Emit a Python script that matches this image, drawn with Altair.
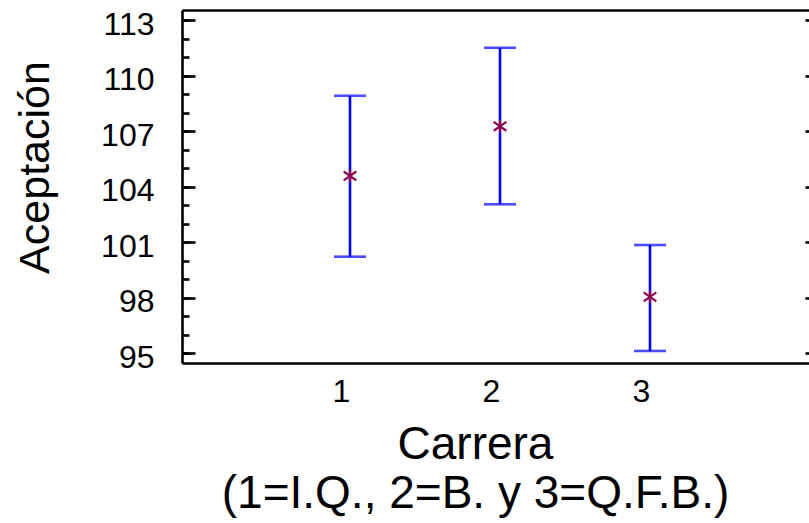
import altair as alt
import pandas as pd

# Acceptance by degree programme: mean with its interval limits
carrera = [1, 2, 3]
media = [104.58, 107.26, 98.05]
lim_inf = [100.22, 103.05, 95.13]
lim_sup = [108.91, 111.50, 100.85]

df = pd.DataFrame({"carrera": carrera, "media": media, "inf": lim_inf, "sup": lim_sup})

FONT = "Liberation Sans"
y_major = list(range(95, 114, 3))
y_minor = list(range(95, 114))

xs = alt.Scale(domain=[-0.12, 4.06], nice=False, zero=False)
ys = alt.Scale(domain=[94.48, 113.54], nice=False, zero=False)

base = alt.Chart(df)

# vertical interval lines, with the main left axis (labelled ticks)
bars = base.mark_rule(color="#0000FF", strokeWidth=2.6).encode(
    x=alt.X("carrera:Q", scale=xs, axis=alt.Axis(
        orient="bottom", values=carrera, format="d", ticks=False, tickSize=0,
        domain=True, domainColor="black", domainWidth=2.6, grid=False,
        labelFont=FONT, labelFontSize=32, labelColor="black",
        labelBaseline="alphabetic", labelPadding=38, labelOffset=-9,
        title=["Carrera", "(1=I.Q., 2=B. y 3=Q.F.B.)"],
        titleFont=FONT, titleFontSize=46, titleFontWeight="normal",
        titleColor="black", titleLineHeight=49, titleAlign="center",
        titleBaseline="alphabetic", titleX=293, titleY=95)),
    y=alt.Y("inf:Q", scale=ys, axis=alt.Axis(
        orient="left", values=y_major, tickSize=13, offset=-13, domain=False,
        tickColor="black", tickWidth=2.6, grid=False,
        labelFont=FONT, labelFontSize=32, labelColor="black",
        labelBaseline="alphabetic", labelPadding=28, labelOffset=14,
        title="")),
    y2="sup:Q",
)

# lower caps, with minor ticks on the left and the top frame line
caps_lo = base.mark_tick(color="#0000FF", orient="horizontal", size=32, thickness=2.6).encode(
    x=alt.X("carrera:Q", scale=xs, axis=alt.Axis(
        orient="top", labels=False, ticks=False, domain=True,
        domainColor="black", domainWidth=2.6, grid=False, title="")),
    y=alt.Y("inf:Q", scale=ys, axis=alt.Axis(
        orient="left", values=y_minor, tickSize=7, offset=-7, domain=False,
        tickColor="black", tickWidth=2.6, labels=False, grid=False, title="")),
)

# upper caps, with the left frame line and the y title
caps_hi = base.mark_tick(color="#0000FF", orient="horizontal", size=32, thickness=2.6).encode(
    x=alt.X("carrera:Q", scale=xs, axis=None),
    y=alt.Y("sup:Q", scale=ys, axis=alt.Axis(
        orient="left", ticks=False, labels=False, domain=True,
        domainColor="black", domainWidth=2.6, grid=False,
        title="Aceptación", titleFont=FONT, titleFontSize=43,
        titleFontWeight="normal", titleColor="black", titleAngle=270,
        titleAlign="center", titleBaseline="alphabetic",
        titleX=-134, titleY=157)),
)

# mean markers, with the short ticks on the right
asterisk = "M0,-1L0,1M-1,-0.7L1,0.7M-1,0.7L1,-0.7"
points = base.mark_point(shape=asterisk, size=160, color="#8B0A50",
                         strokeWidth=2.2, filled=False, opacity=1).encode(
    x=alt.X("carrera:Q", scale=xs, axis=None),
    y=alt.Y("media:Q", scale=ys, axis=alt.Axis(
        orient="right", values=y_major, tickSize=4, offset=-4, domain=False,
        tickColor="black", tickWidth=2.6, labels=False, grid=False, title="")),
)

chart = alt.layer(bars, caps_lo, caps_hi, points).resolve_axis(
    x="independent", y="independent"
).properties(
    width=627, height=353,
    autosize=alt.AutoSizeParams(type="none"),
    padding={"left": 182, "top": 10, "right": 0, "bottom": 160},
    background="white",
).configure_view(stroke=None)

chart.save("out.html", embed_options={"renderer": "svg", "actions": False})
